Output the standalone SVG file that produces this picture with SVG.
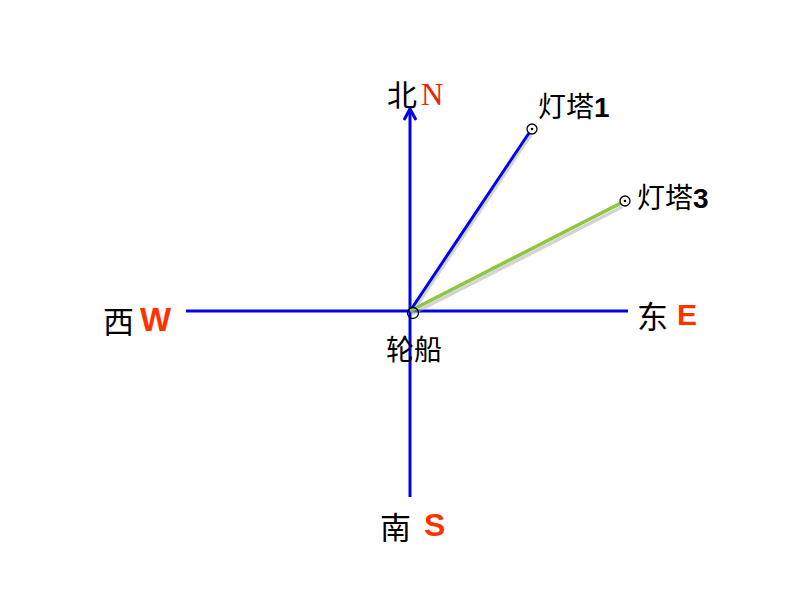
<svg xmlns="http://www.w3.org/2000/svg" width="794" height="596" viewBox="0 0 794 596">
<style>
.ax{stroke:#0000ee;stroke-width:3;fill:none}
.cn{font-family:"Liberation Sans","Noto Sans CJK SC",sans-serif;fill:#000}
.dir{font-family:"Liberation Sans",sans-serif;font-weight:bold;fill:#ff3300}
.pt{fill:#fff;stroke:#000;stroke-width:1.3}
.dot{fill:#000}
</style>
<rect width="794" height="596" fill="#fff"/>
<g id="connectors">
<line x1="186" y1="311" x2="628" y2="311" class="ax"/>
<line x1="410" y1="497" x2="410" y2="110" class="ax"/>
<polyline points="404,120 410,109 416,120" class="ax"/>
<line x1="412" y1="313" x2="531" y2="135" stroke="#aaaaaa" stroke-width="3" opacity="0.5"/>
<line x1="410" y1="311" x2="529" y2="133" class="ax"/>
<line x1="412" y1="314" x2="622" y2="207" stroke="#aaaaaa" stroke-width="3.5" opacity="0.5"/>
<line x1="410" y1="311" x2="621" y2="203" stroke="#8dc63f" stroke-width="3.5"/>
</g>
<g id="ship">
<circle cx="413" cy="313" r="5.5" fill="none" stroke="#000" stroke-width="1.3"/>
<text x="386" y="360" class="cn" font-size="28">轮船</text>
</g>
<g id="lighthouse1">
<circle cx="532" cy="129" r="5" class="pt"/>
<circle cx="532" cy="129" r="1.3" class="dot"/>
<text x="538" y="117" class="cn" font-size="28">灯塔<tspan font-weight="bold">1</tspan></text>
</g>
<g id="lighthouse3">
<circle cx="625" cy="201" r="5" class="pt"/>
<circle cx="625" cy="201" r="1.3" class="dot"/>
<text x="637" y="208" class="cn" font-size="28">灯塔<tspan font-weight="bold">3</tspan></text>
</g>
<g id="north">
<text x="387" y="106" class="cn" font-size="30">北</text>
<text x="421" y="105" font-family="Liberation Serif,serif" font-size="31" fill="#ee2200">N</text>
</g>
<g id="west">
<text x="103" y="333" class="cn" font-size="31">西</text>
<text x="140" y="331" class="dir" font-size="33">W</text>
</g>
<g id="east">
<text x="637" y="328" class="cn" font-size="31">东</text>
<text x="677" y="325" class="dir" font-size="30">E</text>
</g>
<g id="south">
<text x="380" y="539" class="cn" font-size="31">南</text>
<text x="424" y="536" class="dir" font-size="32">S</text>
</g>
</svg>
